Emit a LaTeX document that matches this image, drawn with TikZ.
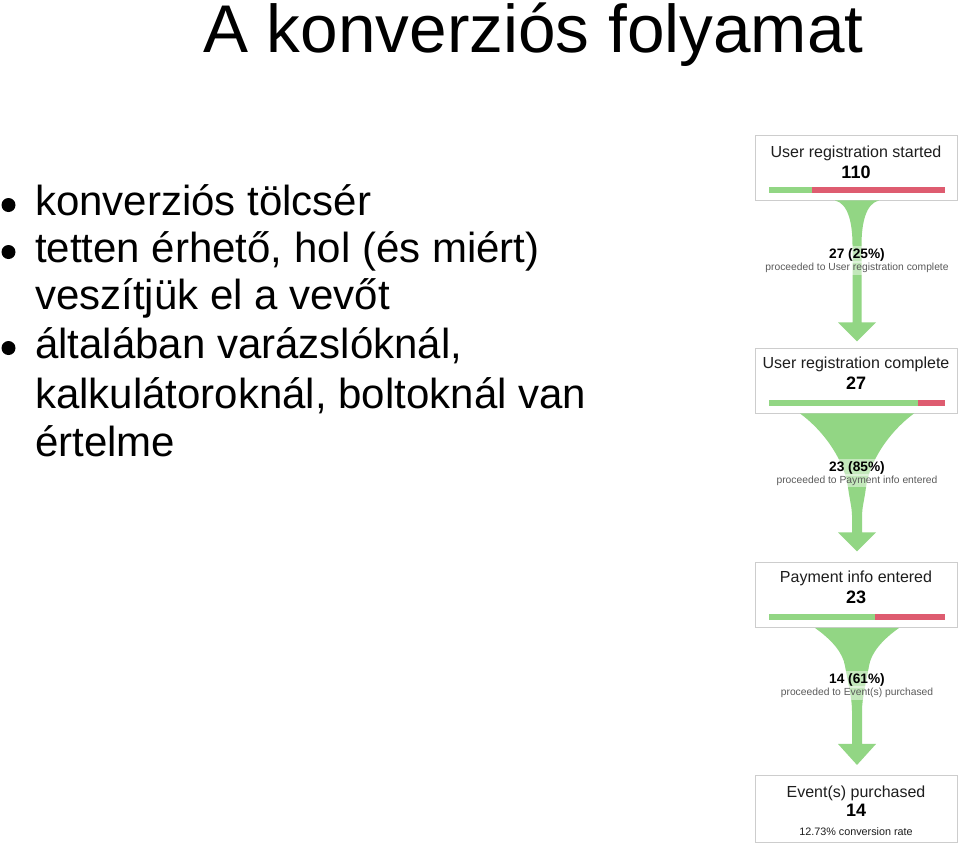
\documentclass[tikz,border=0pt]{standalone}
\usepackage{fontspec}
\setmainfont{Liberation Sans}
\usetikzlibrary{calc}
\definecolor{fgreen}{RGB}{146,214,132}
\definecolor{fred}{RGB}{222,92,112}
\definecolor{boxline}{RGB}{205,205,205}
\definecolor{lbl}{RGB}{90,90,90}
\definecolor{ttl}{RGB}{30,30,30}
\tikzset{
  bul/.style={font=\fontsize{42}{48}\selectfont, anchor=base west, inner sep=0pt},
  bdot/.style={fill=black, draw=none},
  fbox/.style={draw=boxline, line width=0.9pt, fill=white, minimum width=202pt, minimum height=65pt, inner sep=0pt},
  btitle/.style={font=\fontsize{16}{18}\selectfont, text=ttl, anchor=base, inner sep=0pt},
  bnum/.style={font=\bfseries\fontsize{18}{20}\selectfont, text=black, anchor=base, inner sep=0pt},
  flabel/.style={font=\bfseries\fontsize{13.7}{16}\selectfont, text=black, anchor=base, fill=white, fill opacity=0.45, text opacity=1, inner xsep=3pt, inner ysep=2pt},
  fsub/.style={font=\fontsize{10.3}{12}\selectfont, text=lbl, anchor=base, fill=white, fill opacity=0.45, text opacity=1, inner xsep=2pt, inner ysep=2pt},
  funnel/.style={fill=fgreen, draw=none},
  goodbar/.style={fill=fgreen, draw=none},
  badbar/.style={fill=fred, draw=none}
}
\begin{document}
\begin{tikzpicture}[x=1pt,y=-1pt]
\useasboundingbox (0,0) rectangle (960,847);
\fill[white] (0,0) rectangle (960,847);

% title
\node[font=\fontsize{67.5}{72}\selectfont, anchor=base west, inner sep=0pt] (title) at (203,52) {A konverziós folyamat};

% bullets
\fill[bdot] (8.5,205) circle (7);
\node[bul] (l1) at (35,215) {konverziós tölcsér};
\fill[bdot] (8.5,252) circle (7);
\node[bul] (l2) at (35,262) {tetten érhető, hol (és miért)};
\node[bul] (l3) at (35,309) {veszítjük el a vevőt};
\fill[bdot] (8.5,348) circle (7);
\node[bul] (l4) at (35,358) {általában varázslóknál,};
\node[bul] (l5) at (35,408) {kalkulátoroknál, boltoknál van};
\node[bul] (l6) at (35,456) {értelme};

% boxes
\node[fbox] (b1) at (856,167.5) {};
\node[fbox] (b2) at (856,380.5) {};
\node[fbox] (b3) at (856,595) {};
\node[fbox, minimum height=67pt] (b4) at (856,808.5) {};

% box 1
\node[btitle] (b1t) at (856,157.5) {User registration started};
\node[bnum] (b1n) at (856,178.5) {110};
\fill[goodbar] (769,187) rectangle (812,193);
\fill[badbar] (812,187) rectangle (945,193);

% box 2
\node[btitle] (b2t) at (856,368.5) {User registration complete};
\node[bnum] (b2n) at (856,389.5) {27};
\fill[goodbar] (769,400) rectangle (918,406);
\fill[badbar] (918,400) rectangle (945,406);

% box 3
\node[btitle] (b3t) at (856,582.5) {Payment info entered};
\node[bnum] (b3n) at (856,603.5) {23};
\fill[goodbar] (769,614) rectangle (875,620);
\fill[badbar] (875,614) rectangle (945,620);

% box 4
\node[btitle] (b4t) at (856,797.5) {Event(s) purchased};
\node[bnum] (b4n) at (856,816.5) {14};
\node[font=\fontsize{10.8}{12}\selectfont, text=ttl, anchor=base, inner sep=0pt] (b4r) at (856,835.5) {12.73\% conversion rate};

% funnel 1
\begin{scope}[shift={($(b1.south)+(1,0)$)}]
\fill[funnel] (-22,0) .. controls (-9,3) and (-4.5,22) .. (-4.5,45) -- (-4.5,122) -- (-19,122) -- (0,141) -- (19,122) -- (4.5,122) -- (4.5,45) .. controls (4.5,22) and (9,3) .. (22,0) -- cycle;
\end{scope}
% funnel 2
\begin{scope}[shift={($(b2.south)+(1,0)$)}]
\fill[funnel] (-57,0) .. controls (-30,20) and (-12,50) .. (-9,74) .. controls (-7,88) and (-5,95) .. (-5,102) -- (-5,119) -- (-19,119) -- (0,138) -- (19,119) -- (5,119) -- (5,102) .. controls (5,95) and (7,88) .. (9,74) .. controls (12,50) and (30,20) .. (57,0) -- cycle;
\end{scope}
% funnel 3
\begin{scope}[shift={($(b3.south)+(1,0)$)}]
\fill[funnel] (-42,0) .. controls (-25,12) and (-14,25) .. (-12,38) .. controls (-9,55) and (-5,70) .. (-5,83) -- (-5,116) -- (-19,116) -- (0,137) -- (19,116) -- (5,116) -- (5,83) .. controls (5,70) and (9,55) .. (12,38) .. controls (14,25) and (25,12) .. (42,0) -- cycle;
\end{scope}

% funnel labels
\node[flabel] (f1a) at (857,258) {27 (25\%)};
\node[fsub] (f1b) at (857,270.5) {proceeded to User registration complete};
\node[flabel] (f2a) at (857,471) {23 (85\%)};
\node[fsub] (f2b) at (857,483) {proceeded to Payment info entered};
\node[flabel] (f3a) at (857,683) {14 (61\%)};
\node[fsub] (f3b) at (857,695.5) {proceeded to Event(s) purchased};
\end{tikzpicture}
\end{document}
